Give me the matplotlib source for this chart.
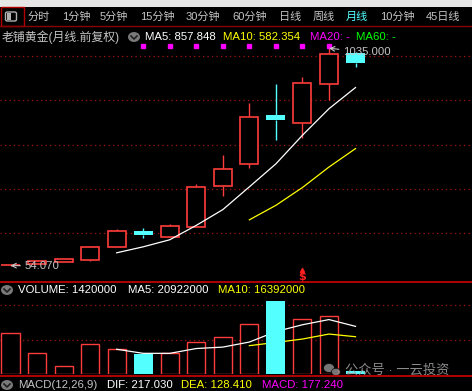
import numpy as np
import pandas as pd
import matplotlib
matplotlib.use("Agg")
import matplotlib.pyplot as plt
from matplotlib.patches import Rectangle, Circle, FancyBboxPatch
from matplotlib.lines import Line2D

W, H = 472, 391

# monthly candles (open, high, low, close)
opens = [56, 63, 72, 81, 137, 210, 185, 230, 415, 514, 734, 699, 875, 1012]
highs = [58, 80, 85, 144, 219, 223, 243, 422, 553, 788, 875, 905, 1035, 1020]
lows = [54.07, 63, 72, 76, 137, 177, 185, 230, 370, 496, 621, 631, 800, 952]
closes = [57, 73, 84, 137, 209, 192, 232, 409, 492.3, 723, 711, 877, 1008, 970.24]
volumes = [17.9e6, 9.2e6, 3.5e6, 13.1e6, 10.9e6, 9.0e6, 9.2e6, 14.0e6, 16.2e6,
           21.9e6, 31.9e6, 24.0e6, 25.3e6, 1.42e6]
signal_idx = [5, 6, 7, 8, 9, 10, 11, 12]
buy_idx = 11
price_grid = [200, 400, 600, 800, 1000]
vol_grid = [15e6, 30e6]

tabs = ["分时", "1分钟", "5分钟", "15分钟", "30分钟", "60分钟", "日线", "周线", "月线", "10分钟", "45日线"]
tab_x = [28, 62, 100, 140, 186, 232, 279, 313, 346, 380, 426]
active_tab = "月线"

RED = "#ff3c3c"
CYAN = "#54ffff"
GRAY = "#c4c4c4"
GRID = "#a01414"
FONT = ["Liberation Sans", "Noto Sans CJK SC"]
DOTS = (0, (1, 2.6))


def fx(x):
    return x / W


def fy(y):
    return 1 - y / H


fig = plt.figure(figsize=(W / 100, H / 100), dpi=100, facecolor="black")

# top light strip and tab bar
fig.patches.append(Rectangle((0, fy(7)), 1, 7 / H, transform=fig.transFigure,
                             facecolor="#e6e6e6", edgecolor="none"))
fig.patches.append(Rectangle((fx(0.5), fy(26)), 23 / W, 19 / H, transform=fig.transFigure,
                             facecolor="none", edgecolor="#b00000", lw=1))
fig.add_artist(Line2D([0, 1], [fy(26), fy(26)], transform=fig.transFigure,
                      color="#8b0000", lw=1))
fig.patches.append(FancyBboxPatch((fx(5.5), fy(21)), 11 / W, 9 / H, transform=fig.transFigure,
                                  boxstyle="round,pad=0,rounding_size=0.004",
                                  facecolor="none", edgecolor="#b0b0b0", lw=1))
fig.patches.append(Rectangle((fx(6.5), fy(20)), 4 / W, 7 / H, transform=fig.transFigure,
                             facecolor="#b0b0b0", edgecolor="none"))

for t, x in zip(tabs, tab_x):
    fig.text(fx(x), fy(17), t, color=CYAN if t == active_tab else GRAY,
             fontsize=8, family=FONT, ha="left", va="center")


def circle_icon(x, y):
    fig.patches.append(Circle((fx(x), fy(y)), 6 / W, transform=fig.transFigure,
                              facecolor="#7a7a7a", edgecolor="none"))
    fig.add_artist(Line2D([fx(x - 3), fx(x), fx(x + 3)], [fy(y - 1), fy(y + 2), fy(y - 1)],
                          transform=fig.transFigure, color="#202020", lw=1.2))


# header row of price panel
fig.text(fx(2), fy(37), "老铺黄金(月线.前复权)", color=GRAY, fontsize=8.6, family=FONT,
         ha="left", va="center")
circle_icon(134, 37)
hdr = [(145, "MA5: 857.848", "white"), (223, "MA10: 582.354", "#ffff00"),
       (310, "MA20: -", "#ff00ff"), (356, "MA60: -", "#00ff00")]
for x, s, c in hdr:
    fig.text(fx(x), fy(37), s, color=c, fontsize=8.2, family=FONT, ha="left", va="center")

# price panel
x = np.arange(len(closes))
o, h, l, c = map(np.array, (opens, highs, lows, closes))
up = c >= o
step = 26.54
x0 = 10.5
xlim = (-x0 / step, (W - x0) / step)
scale = 0.2216  # px per unit


def price_at(ypx):
    return 200 + (233.3 - ypx) / scale


ax = fig.add_axes([0, fy(282), 1, (282 - 40) / H])
ax.set_xlim(*xlim)
ax.set_ylim(price_at(282), price_at(40))
ax.axis("off")
ax.patch.set_alpha(0)
for g in price_grid:
    ax.axhline(g, color=GRID, lw=0.9, ls=DOTS, zorder=0)

bw = 0.68
cols = np.where(up, RED, CYAN)
body_lo = np.minimum(o, c)
body_hi = np.maximum(o, c)
ax.vlines(x, l, body_lo, colors=cols, lw=1, zorder=1)
ax.vlines(x, body_hi, h, colors=cols, lw=1, zorder=1)
ax.bar(x[up], (body_hi - body_lo)[up], bottom=body_lo[up], width=bw,
       facecolor="black", edgecolor=RED, lw=1.2, zorder=1)

cs = pd.Series(closes)
ax.plot(x, cs.rolling(5).mean(), color="white", lw=0.9, zorder=2)
ax.plot(x, cs.rolling(10).mean(), color="#ffff00", lw=0.9, zorder=2)

ax.bar(x[~up], (body_hi - body_lo)[~up], bottom=body_lo[~up], width=bw + 0.04,
       color=CYAN, lw=0, zorder=3)

ax.plot(signal_idx, [price_at(46)] * len(signal_idx), ls="none", marker="s",
        ms=2.2, color="#ff00ff", clip_on=False)

imin = int(np.argmin(l))
imax = int(np.argmax(h))
ax.annotate(f"{l[imin]:.3f}", xy=(imin, l[imin]), xytext=(14, 0), textcoords="offset pixels",
            color=GRAY, fontsize=8.2, family=FONT, va="center", ha="left", zorder=4,
            arrowprops=dict(arrowstyle="->", color=GRAY, lw=0.8, shrinkA=1, shrinkB=0))
ax.annotate(f"{h[imax]:.3f}", xy=(imax, h[imax]), xytext=(14, -4), textcoords="offset pixels",
            color=GRAY, fontsize=8.2, family=FONT, va="center", ha="left", zorder=4,
            arrowprops=dict(arrowstyle="->", color=GRAY, lw=0.8, shrinkA=1, shrinkB=0))
ax.text(buy_idx, price_at(277), "$", color="#ff2020", fontsize=8, fontweight="bold",
        ha="center", va="center", family="DejaVu Sans")
ax.plot([buy_idx], [price_at(269.5)], marker="^", ms=3, color="#ff2020", ls="none")

# separators
fig.add_artist(Line2D([0, 1], [fy(282), fy(282)], transform=fig.transFigure, color="#d00000", lw=1.2))
fig.add_artist(Line2D([0, 1], [fy(375.5), fy(375.5)], transform=fig.transFigure, color="#d00000", lw=1.2))

# volume panel
circle_icon(7, 290)
vh = [(18, "VOLUME: 1420000", "white"), (128, "MA5: 20922000", "white"),
      (218, "MA10: 16392000", "#ffff00")]
for xx, s, cc in vh:
    fig.text(fx(xx), fy(290), s, color=cc, fontsize=8.2, family=FONT, ha="left", va="center")

vax = fig.add_axes([0, fy(374.3), 1, (374.3 - 300) / H])
vax.set_xlim(*xlim)
vax.set_ylim(0, 74.3 * 0.436e6)
vax.axis("off")
vax.patch.set_alpha(0)
for g in vol_grid:
    vax.axhline(g, color=GRID, lw=0.9, ls=DOTS, zorder=0)
v = np.array(volumes)
vax.bar(x[up], v[up], width=bw, facecolor="black", edgecolor=RED, lw=1, zorder=1)
vs = pd.Series(volumes)
vax.plot(x, vs.rolling(5).mean(), color="white", lw=0.9, zorder=2)
vax.plot(x, vs.rolling(10).mean(), color="#ffff00", lw=0.9, zorder=2)
vax.bar(x[~up], v[~up], width=bw + 0.04, color=CYAN, lw=0, zorder=3)

# watermark
for cx, cy, r in [(329, 368, 5.5), (336, 372, 4.5)]:
    fig.patches.append(Circle((fx(cx), fy(cy)), r / W, transform=fig.transFigure,
                              facecolor="#8a8a8a", edgecolor="black", lw=0.6, alpha=0.85))
fig.text(fx(345), fy(370), "公众号 · 一云投资", color="#9a9a9a", fontsize=9.5,
         family=FONT, ha="left", va="center", alpha=0.9)

# MACD header
circle_icon(7, 385)
mh = [(18, "MACD(12,26,9)", GRAY), (107, "DIF: 217.030", "white"),
      (181, "DEA: 128.410", "#ffff00"), (262, "MACD: 177.240", "#ff00ff")]
for xx, s, cc in mh:
    fig.text(fx(xx), fy(385), s, color=cc, fontsize=8.2, family=FONT, ha="left", va="center")

fig.savefig("out.png", dpi=100, facecolor="black")
